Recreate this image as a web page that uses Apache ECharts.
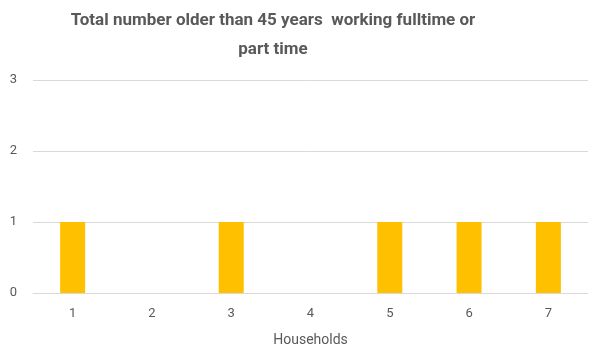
<!DOCTYPE html>
<html><head><meta charset="utf-8">
<script src="https://cdn.jsdelivr.net/npm/echarts@6/dist/echarts.min.js"></script>
<style>html,body{margin:0;padding:0;background:#fff}#c{width:589px;height:348px}</style>
</head><body><div id="c"></div>
<script>
const titleText = "Total number older than 45 years  working fulltime or\npart time";
const categories = ["1","2","3","4","5","6","7"];
const values = [1,0,1,0,1,1,1];
const xAxisName = "Households";
const chart = echarts.init(document.getElementById('c'));
chart.setOption({
  animation:false,
  title:{text:titleText,left:268,textAlign:'center',top:1,textStyle:{fontFamily:'Liberation Sans Narrow, Roboto, sans-serif',fontSize:17,fontWeight:'bold',color:'#595959',lineHeight:29}},
  grid:{left:33,right:1,top:80,bottom:55,containLabel:false,outerBoundsMode:'none'},
  xAxis:{type:'category',data:categories,name:xAxisName,nameLocation:'middle',nameGap:40,
    nameTextStyle:{color:'#595959',fontSize:14,fontFamily:'Roboto, sans-serif'},
    axisLine:{lineStyle:{color:'#d9d9d9'}},axisTick:{show:false},
    axisLabel:{color:'#595959',fontSize:13,margin:14,fontFamily:'Roboto, sans-serif'}},
  yAxis:{type:'value',min:0,max:3,interval:1,
    axisLabel:{color:'#595959',fontSize:13,margin:16,fontFamily:'Roboto, sans-serif'},
    splitLine:{lineStyle:{color:'#d9d9d9'}},axisLine:{show:false},axisTick:{show:false}},
  series:[{type:'bar',data:values,barWidth:25,itemStyle:{color:'#FFC000'}}]
});
</script></body></html>
